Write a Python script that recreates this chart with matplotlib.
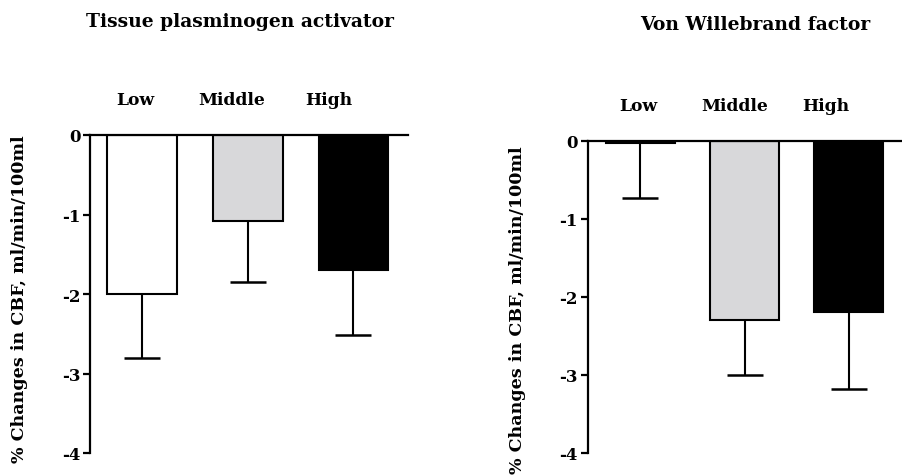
import numpy as np
import matplotlib.pyplot as plt

groups = ['Low', 'Middle', 'High']
colors = ['white', '#d8d8da', 'black']

tpa_mean = [-2.00, -1.08, -1.70]
tpa_err = [0.80, 0.77, 0.81]

vwf_mean = [-0.03, -2.30, -2.20]
vwf_err = [0.70, 0.70, 0.98]

yticks = [0, -1, -2, -3, -4]

plt.rcParams['font.family'] = 'DejaVu Serif'
plt.rcParams['font.weight'] = 'bold'

fig = plt.figure(figsize=(9.02, 4.77), dpi=100)


def panel(rect, xlim, means, errs, title, title_xy, label_x, ylab_xy):
    ax = fig.add_axes(rect)
    x = np.arange(len(means))
    # error bars sit under the opaque bars, so only the lower half shows
    ax.errorbar(x, means, yerr=errs, fmt='none',
                ecolor='black', elinewidth=1.5, capsize=13, capthick=1.8, zorder=1)
    ax.bar(x, means, width=0.66, color=colors, edgecolor='black', linewidth=1.5, zorder=2)
    ax.set_xlim(*xlim)
    ax.set_ylim(-4, 0)
    ax.set_yticks(yticks)
    ax.set_yticklabels([str(t) for t in yticks], fontsize=12, fontweight='bold')
    ax.set_xticks([])
    for s in ['right', 'bottom']:
        ax.spines[s].set_visible(False)
    for s in ['left', 'top']:
        ax.spines[s].set_linewidth(1.6)
        ax.spines[s].set_zorder(3)
    ax.tick_params(axis='y', direction='out', length=5, width=1.6, pad=2)
    ax.set_ylabel('% Changes in CBF, ml/min/100ml', fontsize=12.6, fontweight='bold')
    ax.yaxis.set_label_coords(*ylab_xy)
    for lx, g in zip(label_x, groups):
        ax.text(lx, 1.113, g, transform=ax.get_xaxis_transform(), ha='center',
                va='center', fontsize=12.3, fontweight='bold')
    fig.text(title_xy[0], title_xy[1], title, ha='center', va='center',
             fontsize=13.5, fontweight='bold')
    return ax


panel([90 / 902, 23 / 477, 318 / 902, 318 / 477], (-0.492, 2.516),
      tpa_mean, tpa_err, 'Tissue plasminogen activator', (0.266, 0.954),
      [-0.066, 0.851, 1.769], (-0.195, 0.487))

panel([587.7 / 902, 23 / 477, 314.3 / 902, 312.3 / 477], (-0.507, 2.512),
      vwf_mean, vwf_err, 'Von Willebrand factor', (0.837, 0.948),
      [-0.024, 0.908, 1.782], (-0.196, 0.461))

fig.savefig('out.png', dpi=100)
